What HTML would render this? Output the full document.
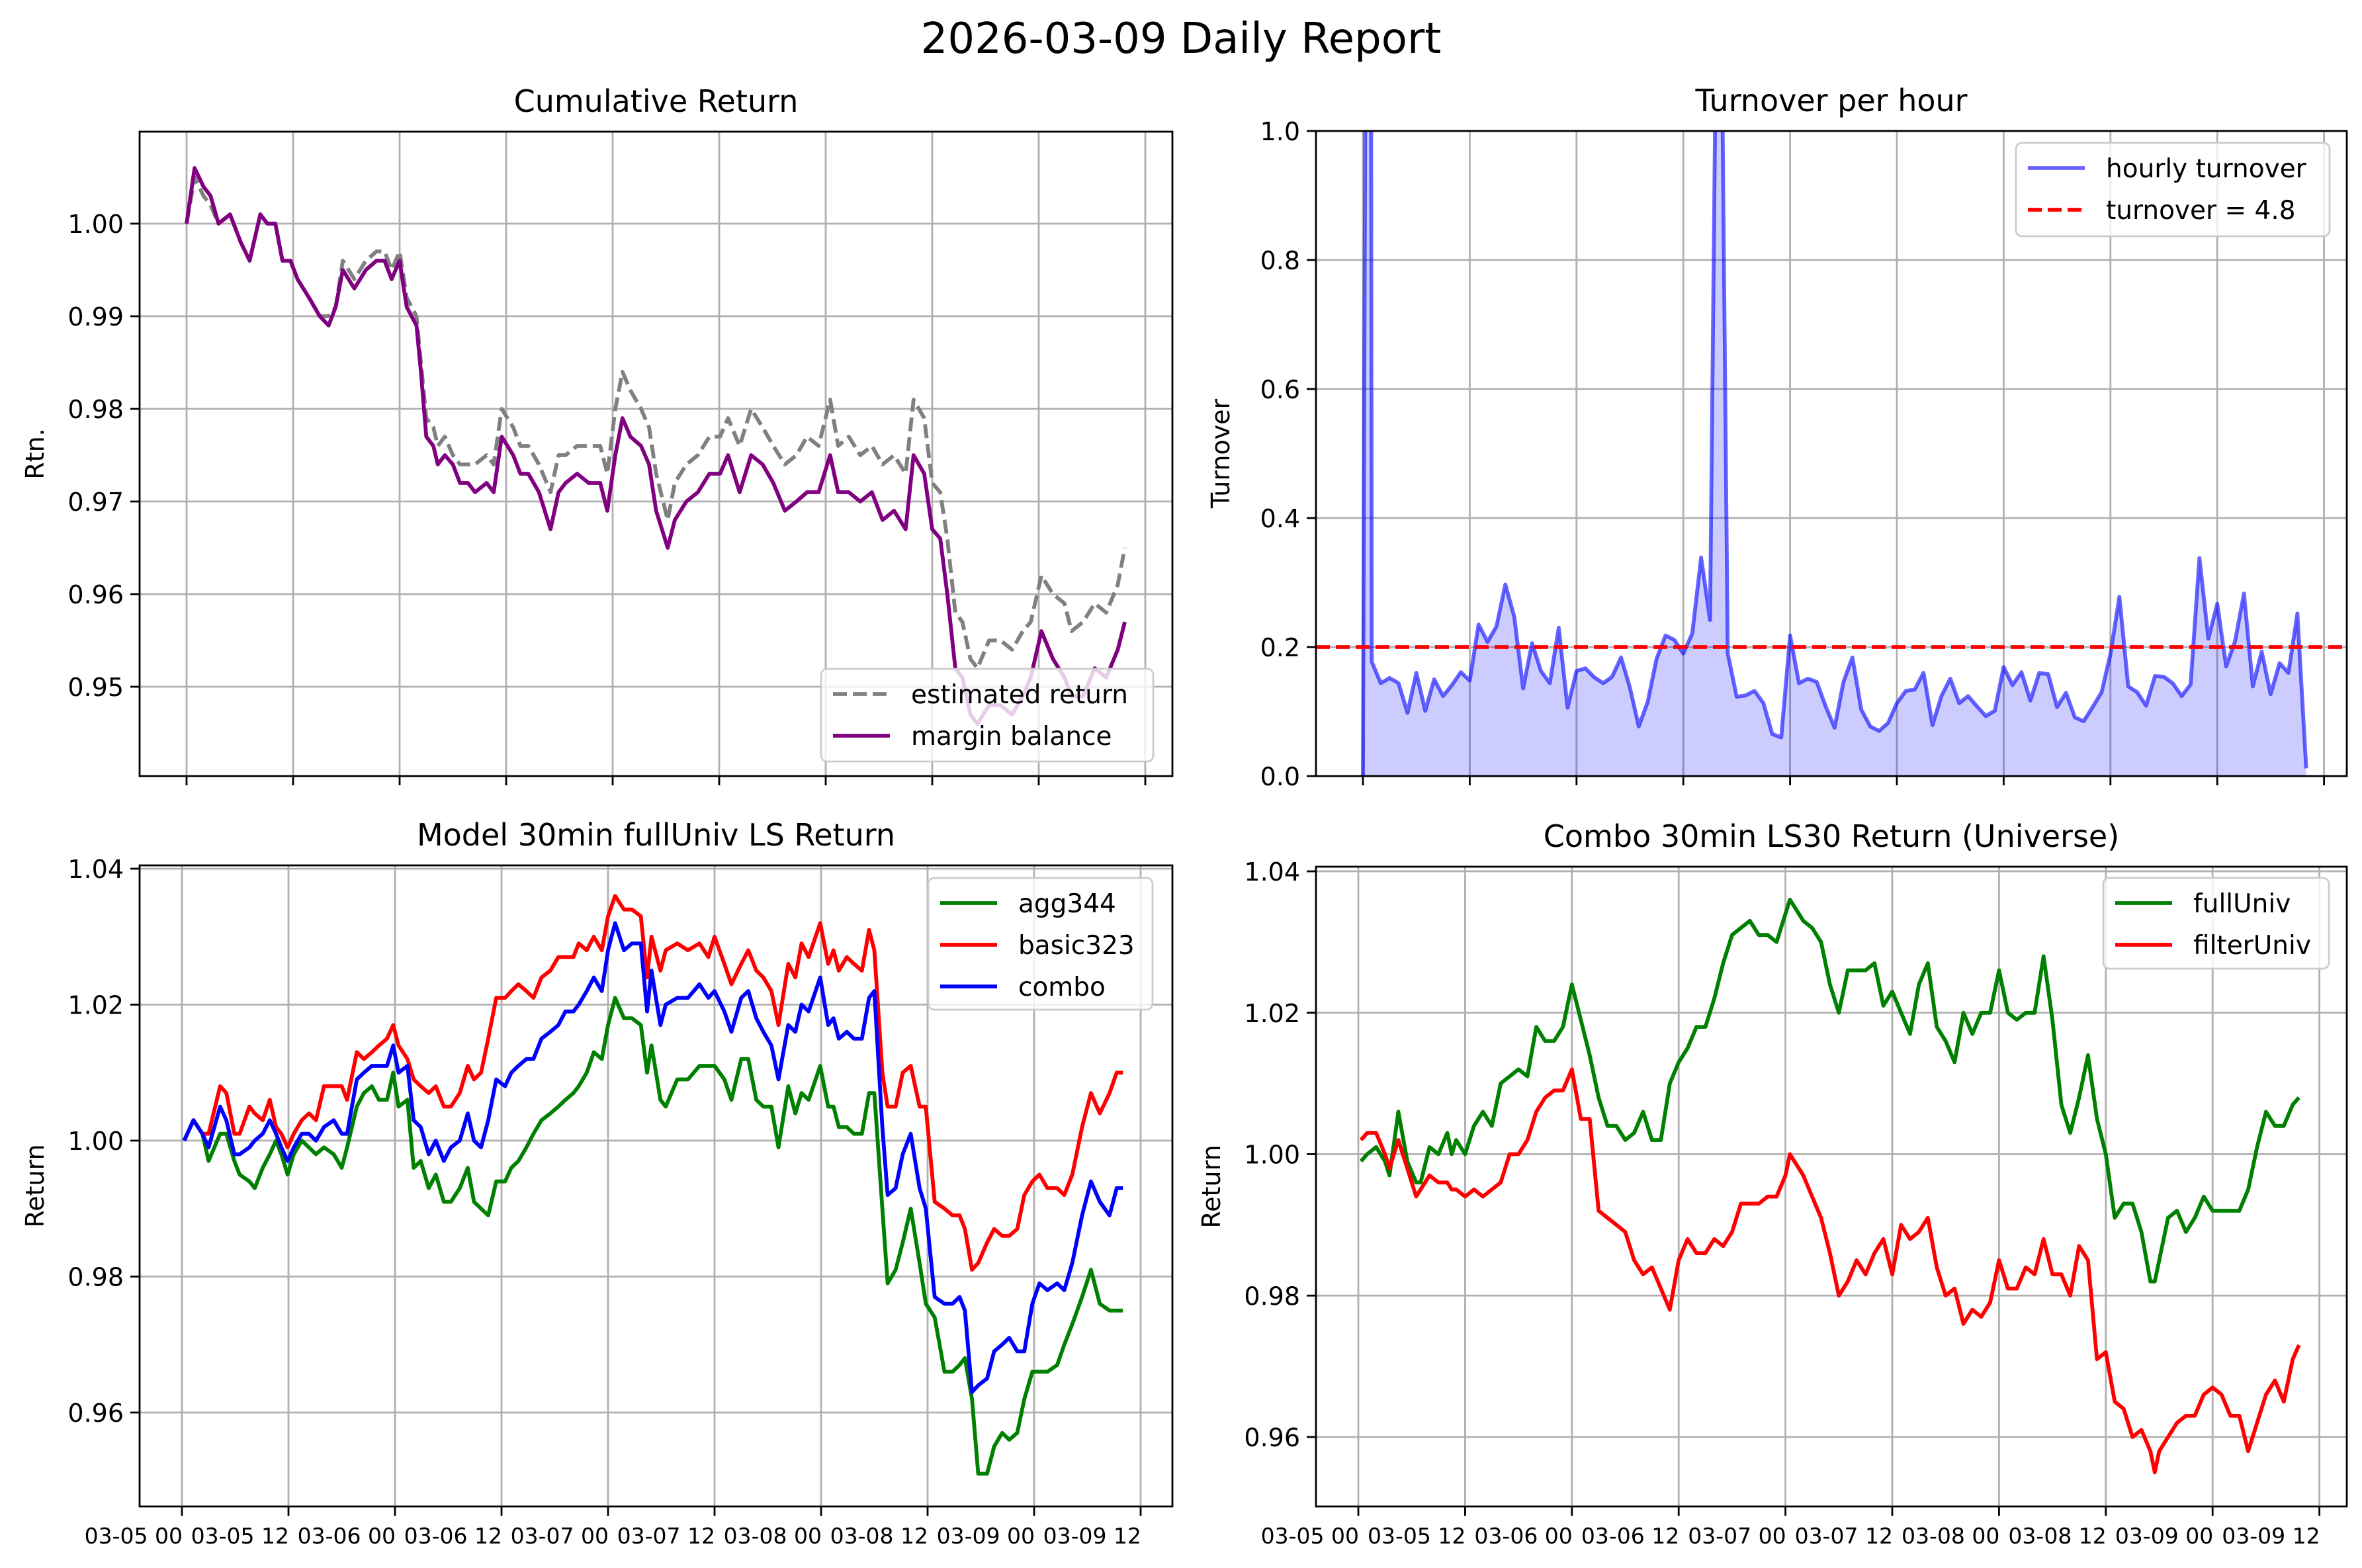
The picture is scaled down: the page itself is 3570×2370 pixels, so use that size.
<!DOCTYPE html>
<html><head><meta charset="utf-8"><style>
html,body{margin:0;padding:0;background:#fff;overflow:hidden;width:3570px;height:2370px;}
svg{display:block;font-family:"DejaVu Sans","Liberation Sans",sans-serif;}
</style></head><body>
<svg id="fig" width="3570" height="2370" viewBox="0 0 3570 2370" xmlns="http://www.w3.org/2000/svg">
<rect x="0" y="0" width="3570" height="2370" fill="#fff"/>
<text x="1785" y="80" font-size="64" text-anchor="middle" fill="#000">2026-03-09 Daily Report</text>
</svg>
<script>
// ---------- data: Cumulative Return ----------
const cumHours = [0,0.9,1.9,2.7,3.6,4.9,6.1,7.1,8.3,9.1,10,10.8,11.7,12.5,13.8,15,16,16.8,17.6,18.9,20.2,21.4,22.3,23.1,24,24.8,25.9,26.4,27,27.8,28.3,29.1,30,30.8,31.7,32.5,33.8,34.6,35.5,36.8,37.6,38.5,39.7,41,41.9,42.7,44,45.3,46.6,47.4,48.3,49.1,50,51.2,52.1,52.9,54.2,55,56.3,57.6,58.9,60.1,61,62.3,63.6,64.9,66.1,67.4,68.7,69.9,71.2,72.5,73.4,74.6,75.9,77.2,78.4,79.7,81,81.9,83.1,84,84.9,85.7,86.6,87.4,88.3,89.1,90.4,91.7,93,94.2,95.1,96.3,97.6,98.9,99.7,101,102.3,103.6,104.9,105.7];
const marginBalance = [1.000,1.006,1.004,1.003,1.000,1.001,0.998,0.996,1.001,1.000,1.000,0.996,0.996,0.994,0.992,0.990,0.989,0.991,0.995,0.993,0.995,0.996,0.996,0.994,0.996,0.991,0.989,0.984,0.977,0.976,0.974,0.975,0.974,0.972,0.972,0.971,0.972,0.971,0.977,0.975,0.973,0.973,0.971,0.967,0.971,0.972,0.973,0.972,0.972,0.969,0.975,0.979,0.977,0.976,0.974,0.969,0.965,0.968,0.970,0.971,0.973,0.973,0.975,0.971,0.975,0.974,0.972,0.969,0.970,0.971,0.971,0.975,0.971,0.971,0.970,0.971,0.968,0.969,0.967,0.975,0.973,0.967,0.966,0.960,0.952,0.951,0.947,0.946,0.948,0.948,0.947,0.949,0.951,0.956,0.953,0.951,0.949,0.949,0.952,0.951,0.954,0.957];
const estimatedReturn = [1.000,1.005,1.003,1.002,1.000,1.001,0.998,0.996,1.001,1.000,1.000,0.996,0.996,0.994,0.992,0.990,0.990,0.991,0.996,0.994,0.996,0.997,0.997,0.995,0.997,0.992,0.990,0.985,0.979,0.978,0.976,0.977,0.975,0.974,0.974,0.974,0.975,0.974,0.980,0.978,0.976,0.976,0.974,0.971,0.975,0.975,0.976,0.976,0.976,0.973,0.980,0.984,0.982,0.980,0.978,0.973,0.968,0.972,0.974,0.975,0.977,0.977,0.979,0.976,0.980,0.978,0.976,0.974,0.975,0.977,0.976,0.981,0.976,0.977,0.975,0.976,0.974,0.975,0.973,0.981,0.979,0.972,0.971,0.966,0.958,0.957,0.953,0.952,0.955,0.955,0.954,0.956,0.957,0.962,0.960,0.959,0.956,0.957,0.959,0.958,0.961,0.965];
const cumTicks = [0.95,0.96,0.97,0.98,0.99,1.00];
const cumTickLabels = ["0.95","0.96","0.97","0.98","0.99","1.00"];

// ---------- data: Turnover ----------
const toHours = [0,0.75,1,2,3,4,5,6,7,8,9,10,11,12,13,14,15,16,17,18,19,20,21,22,23,24,25,26,27,28,29,30,31,32,33,34,35,36,37,38,39,40,41,42,43,44,45,46,47,48,49,50,51,52,53,54,55,56,57,58,59,60,61,62,63,64,65,66,67,68,69,70,71,72,73,74,75,76,77,78,79,80,81,82,83,84,85,86,87,88,89,90,91,92,93,94,95,96,97,98,99,100,101,102,103,104,105,106];
const hourlyTurnover = [0,3.0,0.177,0.144,0.152,0.144,0.098,0.160,0.101,0.150,0.124,0.141,0.161,0.148,0.235,0.208,0.232,0.297,0.247,0.136,0.206,0.163,0.144,0.230,0.106,0.163,0.167,0.153,0.144,0.154,0.184,0.137,0.077,0.115,0.182,0.218,0.211,0.190,0.221,0.339,0.242,1.6,0.190,0.123,0.125,0.132,0.113,0.065,0.060,0.218,0.144,0.151,0.146,0.108,0.075,0.146,0.184,0.103,0.077,0.070,0.082,0.113,0.132,0.134,0.160,0.079,0.124,0.151,0.113,0.124,0.108,0.093,0.101,0.169,0.141,0.161,0.117,0.160,0.158,0.107,0.129,0.091,0.085,0.107,0.130,0.189,0.278,0.139,0.130,0.109,0.155,0.154,0.144,0.124,0.142,0.338,0.213,0.267,0.170,0.209,0.283,0.139,0.193,0.127,0.175,0.160,0.252,0.012];
const turnoverThreshold = [0.2];
const toTicks = [0,0.2,0.4,0.6,0.8,1.0];
const toTickLabels = ["0.0","0.2","0.4","0.6","0.8","1.0"];

// ---------- data: Model 30min fullUniv LS Return ----------
const modelHours = [0.25,1.3,2.3,3,4.3,5,5.9,6.5,7.6,8.2,9.1,9.9,10.6,11.2,11.9,12.6,13.5,14.3,15.1,16,17.1,18,18.6,19.7,20.5,21.4,22.2,23.1,23.8,24.4,25.4,26.1,26.9,27.8,28.6,29.5,30.3,31.3,32.2,32.9,33.7,34.5,35.4,36.4,37.1,37.9,38.8,39.6,40.5,41.5,42.4,43.2,44.1,44.7,45.6,46.4,47.3,48,48.8,49.8,50.7,51.7,52.4,52.9,53.9,54.5,55.8,57,58.3,59.3,60,61.1,61.9,63,63.8,64.7,65.5,66.4,67.2,68.3,69.1,69.8,70.6,71.9,72.8,73.4,74,74.9,75.7,76.6,77.4,78,78.9,79.5,80.4,81.2,82.1,83.1,83.8,84.8,85.9,86.8,87.6,88.2,89,89.7,90.7,91.5,92.4,93.2,94.1,94.9,95.8,96.6,97.5,98.6,99.4,100.3,101.4,102.4,103.4,104.5,105.3,106];
const agg344 = [1.000,1.003,1.001,0.997,1.001,1.001,0.997,0.995,0.994,0.993,0.996,0.998,1.000,0.998,0.995,0.998,1.000,0.999,0.998,0.999,0.998,0.996,0.999,1.005,1.007,1.008,1.006,1.006,1.010,1.005,1.006,0.996,0.997,0.993,0.995,0.991,0.991,0.993,0.996,0.991,0.990,0.989,0.994,0.994,0.996,0.997,0.999,1.001,1.003,1.004,1.005,1.006,1.007,1.008,1.010,1.013,1.012,1.017,1.021,1.018,1.018,1.017,1.010,1.014,1.006,1.005,1.009,1.009,1.011,1.011,1.011,1.009,1.006,1.012,1.012,1.006,1.005,1.005,0.999,1.008,1.004,1.007,1.006,1.011,1.005,1.005,1.002,1.002,1.001,1.001,1.007,1.007,0.990,0.979,0.981,0.985,0.990,0.982,0.976,0.974,0.966,0.966,0.967,0.968,0.962,0.951,0.951,0.955,0.957,0.956,0.957,0.962,0.966,0.966,0.966,0.967,0.970,0.973,0.977,0.981,0.976,0.975,0.975,0.975];
const basic323 = [1.000,1.003,1.001,1.001,1.008,1.007,1.001,1.001,1.005,1.004,1.003,1.006,1.002,1.001,0.999,1.001,1.003,1.004,1.003,1.008,1.008,1.008,1.006,1.013,1.012,1.013,1.014,1.015,1.017,1.014,1.012,1.009,1.008,1.007,1.008,1.005,1.005,1.007,1.011,1.009,1.010,1.015,1.021,1.021,1.022,1.023,1.022,1.021,1.024,1.025,1.027,1.027,1.027,1.029,1.028,1.030,1.028,1.033,1.036,1.034,1.034,1.033,1.024,1.030,1.025,1.028,1.029,1.028,1.029,1.027,1.030,1.026,1.023,1.026,1.028,1.025,1.024,1.022,1.017,1.026,1.024,1.029,1.027,1.032,1.026,1.028,1.025,1.027,1.026,1.025,1.031,1.028,1.010,1.005,1.005,1.010,1.011,1.005,1.005,0.991,0.990,0.989,0.989,0.987,0.981,0.982,0.985,0.987,0.986,0.986,0.987,0.992,0.994,0.995,0.993,0.993,0.992,0.995,1.002,1.007,1.004,1.007,1.010,1.010];
const combo = [1.000,1.003,1.001,0.999,1.005,1.003,0.998,0.998,0.999,1.000,1.001,1.003,1.001,0.999,0.997,0.999,1.001,1.001,1.000,1.002,1.003,1.001,1.001,1.009,1.010,1.011,1.011,1.011,1.014,1.010,1.011,1.003,1.002,0.998,1.000,0.997,0.999,1.000,1.004,1.000,0.999,1.003,1.009,1.008,1.010,1.011,1.012,1.012,1.015,1.016,1.017,1.019,1.019,1.020,1.022,1.024,1.022,1.028,1.032,1.028,1.029,1.029,1.019,1.025,1.017,1.020,1.021,1.021,1.023,1.021,1.022,1.019,1.016,1.021,1.022,1.018,1.016,1.014,1.009,1.017,1.016,1.020,1.019,1.024,1.017,1.018,1.015,1.016,1.015,1.015,1.021,1.022,1.002,0.992,0.993,0.998,1.001,0.993,0.990,0.977,0.976,0.976,0.977,0.975,0.963,0.964,0.965,0.969,0.970,0.971,0.969,0.969,0.976,0.979,0.978,0.979,0.978,0.982,0.989,0.994,0.991,0.989,0.993,0.993];
const retTicks = [0.96,0.98,1.00,1.02,1.04];
const retTickLabels = ["0.96","0.98","1.00","1.02","1.04"];

// ---------- data: Combo 30min LS30 Return (Universe) ----------
const univHours = [0.3,1,2,3,3.5,4.5,5.5,6.5,7,8,9,10,10.5,11,12,13,14,15,16,17,18,19,20,21,22,23,24,25,26,27,28,29,30,31,32,33,34,35,36,37,38,39,40,41,42,43,44,45,46,47,48,48.5,49,50,51,52,53,54,55,56,57,58,59,60,61,62,63,64,65,66,67,68,69,70,71,72,73,74,75,76,77,78,79,80,81,82,83,84,85,86,87,88,89,89.5,90,91,92,93,94,95,96,97,98,99,100,101,102,103,104,105,105.7];
const fullUniv = [0.999,1.000,1.001,0.999,0.997,1.006,0.999,0.996,0.996,1.001,1.000,1.003,1.000,1.002,1.000,1.004,1.006,1.004,1.010,1.011,1.012,1.011,1.018,1.016,1.016,1.018,1.024,1.019,1.014,1.008,1.004,1.004,1.002,1.003,1.006,1.002,1.002,1.010,1.013,1.015,1.018,1.018,1.022,1.027,1.031,1.032,1.033,1.031,1.031,1.030,1.034,1.036,1.035,1.033,1.032,1.030,1.024,1.020,1.026,1.026,1.026,1.027,1.021,1.023,1.020,1.017,1.024,1.027,1.018,1.016,1.013,1.020,1.017,1.020,1.020,1.026,1.020,1.019,1.020,1.020,1.028,1.019,1.007,1.003,1.008,1.014,1.005,1.000,0.991,0.993,0.993,0.989,0.982,0.982,0.985,0.991,0.992,0.989,0.991,0.994,0.992,0.992,0.992,0.992,0.995,1.001,1.006,1.004,1.004,1.007,1.008];
const filterUniv = [1.002,1.003,1.003,1.000,0.998,1.002,0.998,0.994,0.995,0.997,0.996,0.996,0.995,0.995,0.994,0.995,0.994,0.995,0.996,1.000,1.000,1.002,1.006,1.008,1.009,1.009,1.012,1.005,1.005,0.992,0.991,0.990,0.989,0.985,0.983,0.984,0.981,0.978,0.985,0.988,0.986,0.986,0.988,0.987,0.989,0.993,0.993,0.993,0.994,0.994,0.997,1.000,0.999,0.997,0.994,0.991,0.986,0.980,0.982,0.985,0.983,0.986,0.988,0.983,0.990,0.988,0.989,0.991,0.984,0.980,0.981,0.976,0.978,0.977,0.979,0.985,0.981,0.981,0.984,0.983,0.988,0.983,0.983,0.980,0.987,0.985,0.971,0.972,0.965,0.964,0.960,0.961,0.958,0.955,0.958,0.960,0.962,0.963,0.963,0.966,0.967,0.966,0.963,0.963,0.958,0.962,0.966,0.968,0.965,0.971,0.973];

const xTickHours = [0,12,24,36,48,60,72,84,96,108];
const xTickLabels = ["03-05 00","03-05 12","03-06 00","03-06 12","03-07 00","03-07 12","03-08 00","03-08 12","03-09 00","03-09 12"];

// ---------- drawing ----------
const NS = "http://www.w3.org/2000/svg";
const svg = document.getElementById('fig');
function mk(tag, attrs, parent) {
  const e = document.createElementNS(NS, tag);
  for (const k in attrs) e.setAttribute(k, attrs[k]);
  (parent || svg).appendChild(e);
  return e;
}
const LW = 5.8, GRID = '#b0b0b0';

function makePanel(p) {
  const g = mk('g', {});
  
  
  const xs = h => p.x0 + h * p.xs / 12;
  const ys = v => p.yRef + (p.vRef - v) * p.yPer;
  const cid = p.name + '-clip';
  const cp = mk('clipPath', {id: cid}, g);
  mk('rect', {x: p.l, y: p.t, width: p.r - p.l, height: p.b - p.t}, cp);
  const grid = mk('g', {stroke: GRID, 'stroke-width': 2.8}, g);
  
  
  xTickHours.forEach(h => { const x = xs(h); mk('line', {x1: x, x2: x, y1: p.t, y2: p.b}, grid); });
  p.yTicks.forEach(v => { const y = ys(v); mk('line', {x1: p.l, x2: p.r, y1: y, y2: y}, grid); });
  const plot = mk('g', {'clip-path': 'url(#' + cid + ')'}, g);
  
  
  const sp = mk('rect', {x: p.l, y: p.t, width: p.r - p.l, height: p.b - p.t, fill: 'none', stroke: '#000', 'stroke-width': 2.8}, g);
  
  
  const xt = mk('g', {}, g);
  
  
  xTickHours.forEach((h, i) => {
    const x = xs(h);
    mk('line', {x1: x, x2: x, y1: p.b, y2: p.b + 14, stroke: '#000', 'stroke-width': 2.8}, xt);
    if (p.xLabels) {
      const t = mk('text', {x: x + 1, y: p.b + 56, 'font-size': 33, 'text-anchor': 'end', fill: '#000'}, xt);
      t.textContent = xTickLabels[i];
      
      
    }
  });
  const yt = mk('g', {}, g);
  
  
  p.yTicks.forEach((v, i) => {
    const y = ys(v);
    mk('line', {x1: p.l - 14, x2: p.l, y1: y, y2: y, stroke: '#000', 'stroke-width': 2.8}, yt);
    const t = mk('text', {x: p.l - 24, y: y + 14, 'font-size': 38, 'text-anchor': 'end', fill: '#000'}, yt);
    t.textContent = p.yLabels[i];
    
    
  });
  const title = mk('text', {x: (p.l + p.r) / 2, y: p.t - 30, 'font-size': 46, 'text-anchor': 'middle', fill: '#000'}, g);
  title.textContent = p.title;
  
  
  const cy = (p.t + p.b) / 2;
  const yl = mk('text', {x: p.ylx, y: cy, 'font-size': 38, 'text-anchor': 'middle', fill: '#000', transform: 'rotate(-90 ' + p.ylx + ' ' + cy + ')'}, g);
  yl.textContent = p.ylabel;
  
  
  return {g, plot, xs, ys};
}

function linePts(hours, vals, xs, ys) {
  const n = Math.min(hours.length, vals.length);
  const pts = [];
  for (let i = 0; i < n; i++) pts.push(xs(hours[i]).toFixed(1) + ',' + ys(vals[i]).toFixed(1));
  return pts;
}

function legend(parent, box, items) {
  const g = mk('g', {}, parent);
  
  
  mk('rect', {x: box[0], y: box[1], width: box[2], height: box[3], rx: 9, fill: '#fff', 'fill-opacity': 0.8, stroke: '#cccccc', 'stroke-width': 2.8}, g);
  items.forEach((it, i) => {
    const y = box[1] + 38 + i * 63;
    const e = mk('g', {}, g);
    
    
    const ln = mk('line', {x1: box[0] + 18, x2: box[0] + 104, y1: y, y2: y, stroke: it.c, 'stroke-width': LW, 'stroke-opacity': it.o || 1}, e);
    if (it.dash) ln.setAttribute('stroke-dasharray', '21,9');
    const t = mk('text', {x: box[0] + 136, y: y + 14, 'font-size': 39, fill: '#000'}, e);
    t.textContent = it.label;
  });
}

// Panel 1: Cumulative Return
const P1 = makePanel({name: 'cumulative-return-chart', l: 211, r: 1772, t: 199, b: 1173, x0: 282, xs: 161,
  yRef: 338, vRef: 1.00, yPer: 14000, yTicks: cumTicks, yLabels: cumTickLabels, xLabels: false,
  title: 'Cumulative Return', ylabel: 'Rtn.', ylx: 66});
const est = mk('polyline', {points: linePts(cumHours, estimatedReturn, P1.xs, P1.ys).join(' '), fill: 'none', stroke: '#808080', 'stroke-width': LW, 'stroke-dasharray': '21,9', 'stroke-linejoin': 'round'}, P1.plot);


const mb = mk('polyline', {points: linePts(cumHours, marginBalance, P1.xs, P1.ys).join(' '), fill: 'none', stroke: '#800080', 'stroke-width': LW, 'stroke-linejoin': 'round'}, P1.plot);


legend(P1.g, [1241, 1011, 502, 140], [{c: '#808080', dash: true, label: 'estimated return'}, {c: '#800080', label: 'margin balance'}]);

// Panel 2: Turnover per hour
const P2 = makePanel({name: 'turnover-chart', l: 1989, r: 3547, t: 198, b: 1173, x0: 2060, xs: 161.4,
  yRef: 1173, vRef: 0, yPer: 975, yTicks: toTicks, yLabels: toTickLabels, xLabels: false,
  title: 'Turnover per hour', ylabel: 'Turnover', ylx: 1858});
const tp = linePts(toHours, hourlyTurnover, P2.xs, P2.ys);
const nT = Math.min(toHours.length, hourlyTurnover.length);
const fillPts = tp.concat([P2.xs(toHours[nT - 1]).toFixed(1) + ',' + P2.ys(0), P2.xs(toHours[0]).toFixed(1) + ',' + P2.ys(0)]);
const area = mk('polygon', {points: fillPts.join(' '), fill: 'rgb(0,0,255)', 'fill-opacity': 0.2, stroke: 'none'}, P2.plot);


const tl = mk('polyline', {points: tp.join(' '), fill: 'none', stroke: 'rgb(0,0,255)', 'stroke-opacity': 0.6, 'stroke-width': LW, 'stroke-linejoin': 'round'}, P2.plot);


const thY = P2.ys(turnoverThreshold[0]);
const th = mk('line', {x1: 1989, x2: 3547, y1: thY, y2: thY, stroke: '#ff0000', 'stroke-width': LW, 'stroke-dasharray': '21,9'}, P2.plot);


legend(P2.g, [3047, 216, 474, 141], [{c: 'rgb(0,0,255)', o: 0.6, label: 'hourly turnover'}, {c: '#ff0000', dash: true, label: 'turnover = 4.8'}]);

// Panel 3: Model returns
const P3 = makePanel({name: 'model-return-chart', l: 211, r: 1772, t: 1308, b: 2277, x0: 275, xs: 161,
  yRef: 1313, vRef: 1.04, yPer: 822 / 0.08, yTicks: retTicks, yLabels: retTickLabels, xLabels: true,
  title: 'Model 30min fullUniv LS Return', ylabel: 'Return', ylx: 66});
[[agg344, '#008000', 'agg344-line'], [basic323, '#ff0000', 'basic323-line'], [combo, '#0000ff', 'combo-line']].forEach(s => {
  const l = mk('polyline', {points: linePts(modelHours, s[0], P3.xs, P3.ys).join(' '), fill: 'none', stroke: s[1], 'stroke-width': LW, 'stroke-linejoin': 'round'}, P3.plot);
  
  
});
legend(P3.g, [1403, 1327, 339, 199], [{c: '#008000', label: 'agg344'}, {c: '#ff0000', label: 'basic323'}, {c: '#0000ff', label: 'combo'}]);

// Panel 4: Universe returns
const P4 = makePanel({name: 'universe-return-chart', l: 1989, r: 3547, t: 1310, b: 2277, x0: 2053, xs: 161.4,
  yRef: 1317, vRef: 1.04, yPer: 855 / 0.08, yTicks: retTicks, yLabels: retTickLabels, xLabels: true,
  title: 'Combo 30min LS30 Return (Universe)', ylabel: 'Return', ylx: 1844});
[[fullUniv, '#008000', 'full-univ-line'], [filterUniv, '#ff0000', 'filter-univ-line']].forEach(s => {
  const l = mk('polyline', {points: linePts(univHours, s[0], P4.xs, P4.ys).join(' '), fill: 'none', stroke: s[1], 'stroke-width': LW, 'stroke-linejoin': 'round'}, P4.plot);
  
  
});
legend(P4.g, [3179, 1327, 341, 137], [{c: '#008000', label: 'fullUniv'}, {c: '#ff0000', label: 'filterUniv'}]);
</script>
</body></html>
